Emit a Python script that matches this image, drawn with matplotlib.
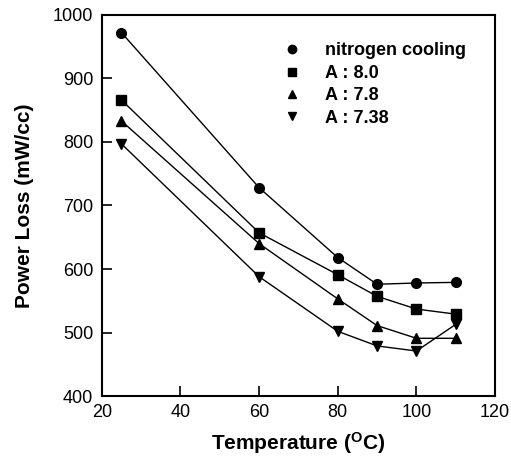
import numpy as np
import matplotlib

matplotlib.use("Agg")
import matplotlib.pyplot as plt

plt.rcParams["font.family"] = ["Liberation Sans", "DejaVu Sans"]
plt.rcParams["mathtext.fontset"] = "custom"
plt.rcParams["mathtext.bf"] = "Liberation Sans:bold"
plt.rcParams["mathtext.rm"] = "Liberation Sans:bold"

temp = [25, 60, 80, 90, 100, 110]
nitrogen = [972, 728, 618, 576, 578, 579]
a80 = [866, 657, 591, 557, 537, 529]
a78 = [833, 640, 553, 511, 491, 491]
a738 = [797, 588, 502, 479, 471, 513]

labels = ["nitrogen cooling", "A : 8.0", "A : 7.8", "A : 7.38"]
markers = ["o", "s", "^", "v"]

fig = plt.figure(figsize=(5.11, 4.75), dpi=100)
ax = fig.add_axes([0.199, 0.166, 0.770, 0.803])

for ys, m, lab in zip([nitrogen, a80, a78, a738], markers, labels):
    ax.plot(temp, ys, color="black", lw=1.0, marker=m, ms=7, label=lab)

ax.set_xlim(20, 120)
ax.set_ylim(400, 1000)
ax.set_xticks(np.arange(20, 121, 20))
ax.set_yticks(np.arange(400, 1001, 100))
ax.tick_params(direction="in", length=7, width=1.2, labelsize=13, pad=6)
ax.tick_params(top=False, right=False)
for s in ax.spines.values():
    s.set_linewidth(1.5)

ax.set_xlabel(r"Temperature ($\mathbf{^{O}}$C)", fontsize=15, fontweight="bold", labelpad=6)
ax.set_ylabel("Power Loss (mW/cc)", fontsize=15, fontweight="bold", labelpad=14)

handles, labs = ax.get_legend_handles_labels()
leg = ax.legend(handles, labs, loc="upper left", bbox_to_anchor=(0.42, 0.97),
                frameon=False, handlelength=1.0, handletextpad=1.3,
                labelspacing=0.3, prop={"weight": "bold", "size": 13})
for h in leg.legend_handles:
    h.set_linestyle("none")
    h.set_markersize(6)

fig.savefig("out.png", dpi=100)
